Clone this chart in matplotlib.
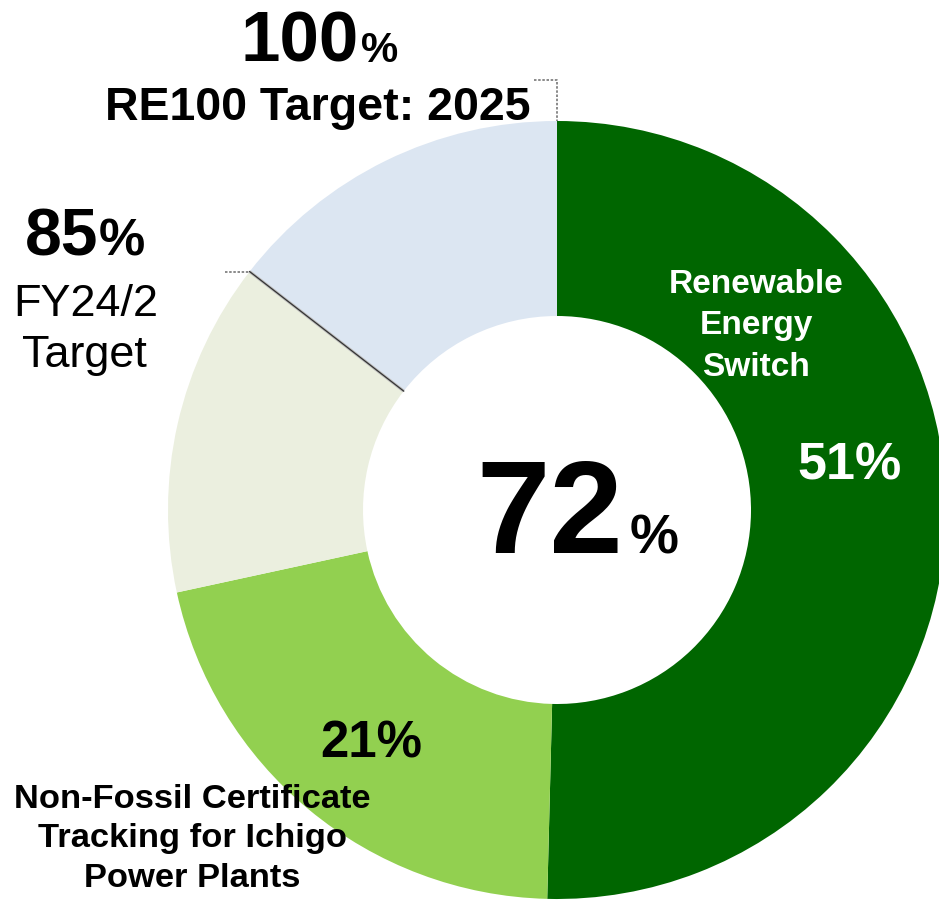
import matplotlib
matplotlib.use("Agg")
import matplotlib.pyplot as plt
import numpy as np

# ---- data ----
segments = ["Renewable Energy Switch", "Non-Fossil Certificate Tracking for Ichigo Power Plants",
            "Gap to FY24/2 Target", "Gap to RE100 Target"]
values = [50.4, 21.2, 13.9, 14.5]
current_total = "72"
target_fy = "85"
target_re100 = "100"
label_renew = "Renewable\nEnergy\nSwitch"
label_renew_pct = "51%"
label_nonfossil = "Non-Fossil Certificate\nTracking for Ichigo\nPower Plants"
label_nonfossil_pct = "21%"

colors = ["#006600", "#92D050", "#EBEFDF", "#DCE6F2"]

W, H = 939, 901
fig = plt.figure(figsize=(W / 100, H / 100), dpi=100)
ax = fig.add_axes([0, 0, 1, 1])

def Y(py):
    return H - py

def fs(px):
    return px * 72 / 100

cx, cy = 557, Y(510)
R_out, R_in = 389, 194
FONT = "Liberation Sans"

ax.pie(values, colors=colors, startangle=90, counterclock=False,
       center=(cx, cy), radius=R_out, frame=True,
       wedgeprops=dict(width=R_out - R_in, linewidth=0))
ax.set_xlim(0, W)
ax.set_ylim(0, H)
ax.set_aspect("equal")
ax.axis("off")

# boundary line at the FY24/2 target (cumulative)
cum = np.cumsum(values) / sum(values)
ang = np.deg2rad(90 - 360 * cum[2])
xo, yo = cx + R_out * np.cos(ang), cy + R_out * np.sin(ang)
xi, yi = cx + R_in * np.cos(ang), cy + R_in * np.sin(ang)
ax.plot([xo, xi], [yo, yi], color="#BFBFBF", lw=2.2, solid_capstyle="butt", zorder=3)
ax.plot([xo, xi], [yo, yi], color="#333333", lw=0.9, zorder=4)
ax.plot([xo - 25, xo], [yo, yo], color="#777777", lw=1.2, ls=(0, (1.5, 1)), zorder=4)

# leader for 100%
ax.plot([534, cx, cx], [Y(80), Y(80), cy + R_out], color="#777777", lw=1.2,
        ls=(0, (1.5, 1)), zorder=4)

# ---- texts ----
# center 72%
ax.text(623, Y(553), current_total, ha="right", va="baseline", fontsize=fs(132),
        fontweight="bold", family=FONT, color="black")
ax.text(630, Y(553), "%", ha="left", va="baseline", fontsize=fs(55),
        fontweight="bold", family=FONT, color="black")

# 100% / RE100
ax.text(359, Y(62), target_re100, ha="right", va="baseline", fontsize=fs(71),
        fontweight="bold", family=FONT, color="black")
ax.text(361, Y(62), "%", ha="left", va="baseline", fontsize=fs(42),
        fontweight="bold", family=FONT, color="black")
ax.text(318, Y(120), "RE100 Target: 2025", ha="center", va="baseline", fontsize=fs(46.5),
        fontweight="bold", family=FONT, color="black")

# 85% / FY24/2 Target
ax.text(98, Y(256), target_fy, ha="right", va="baseline", fontsize=fs(66),
        fontweight="bold", family=FONT, color="black")
ax.text(99, Y(256), "%", ha="left", va="baseline", fontsize=fs(52),
        fontweight="bold", family=FONT, color="black")
ax.text(86, Y(316), "FY24/2", ha="center", va="baseline", fontsize=fs(45),
        family=FONT, color="black")
ax.text(84, Y(367), "Target", ha="center", va="baseline", fontsize=fs(45),
        family=FONT, color="black")

# Renewable labels
for i, line in enumerate(label_renew.split("\n")):
    ax.text(756, Y([293, 334, 376][i]), line, ha="center", va="baseline",
            fontsize=fs(33.5), fontweight="bold", family=FONT, color="white")
ax.text(850, Y(480), label_renew_pct, ha="center", va="baseline", fontsize=fs(52),
        fontweight="bold", family=FONT, color="white")

# Non-fossil labels
ax.text(371, Y(757), label_nonfossil_pct, ha="center", va="baseline", fontsize=fs(51),
        fontweight="bold", family=FONT, color="black")
for i, line in enumerate(label_nonfossil.split("\n")):
    ax.text(192, Y([808, 847, 887][i]), line, ha="center", va="baseline",
            fontsize=fs(34.5), fontweight="bold", family=FONT, color="black")

fig.savefig("out.png", dpi=100)
